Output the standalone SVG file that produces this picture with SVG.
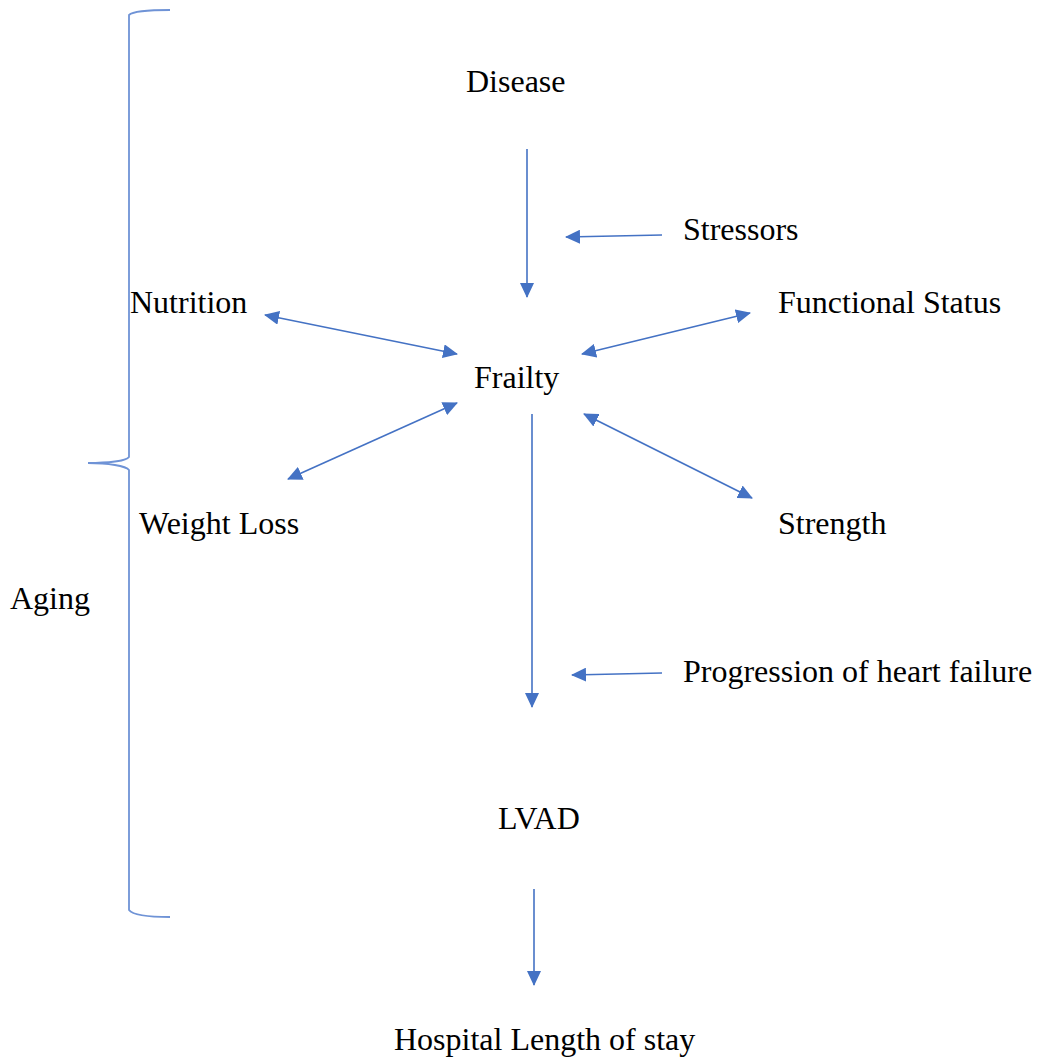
<svg xmlns="http://www.w3.org/2000/svg" width="1037" height="1062" viewBox="0 0 1037 1062">
<style>
.t{font-family:"Liberation Serif","Times New Roman",serif;font-size:32px;fill:#000}
.c{stroke:#4472C4;stroke-width:1.6;fill:none}
.b{stroke:#6f93d6;stroke-width:1.8;fill:none}
</style>
<defs>
<marker id="ah" viewBox="0 0 15 14" refX="14" refY="7" markerWidth="15" markerHeight="14" markerUnits="userSpaceOnUse" orient="auto-start-reverse">
<path d="M0,0 L15,7 L0,14 Z" fill="#4472C4"/>
</marker>
</defs>
<rect width="1037" height="1062" fill="#fff"/>
<g id="brace">
<path class="b" d="M170,10 C145,10 132,12 129,15 L129,457 C126,461 108,463 88,463 C108,463 126,466 129,470 L129,910 C132,914 145,917 170,917"/>
</g>
<g id="connectors">
<line class="c" x1="527" y1="149" x2="527" y2="297" marker-end="url(#ah)"/>
<line class="c" x1="662" y1="235" x2="566" y2="237" marker-end="url(#ah)"/>
<line class="c" x1="265" y1="315" x2="457" y2="354" marker-start="url(#ah)" marker-end="url(#ah)"/>
<line class="c" x1="582" y1="354" x2="750" y2="313" marker-start="url(#ah)" marker-end="url(#ah)"/>
<line class="c" x1="457" y1="403" x2="288" y2="479" marker-start="url(#ah)" marker-end="url(#ah)"/>
<line class="c" x1="584" y1="414" x2="752" y2="498" marker-start="url(#ah)" marker-end="url(#ah)"/>
<line class="c" x1="532" y1="414" x2="532" y2="707" marker-end="url(#ah)"/>
<line class="c" x1="662" y1="673" x2="572" y2="675" marker-end="url(#ah)"/>
<line class="c" x1="534" y1="889" x2="534" y2="985" marker-end="url(#ah)"/>
</g>
<g id="disease"><text class="t" x="466" y="92">Disease</text></g>
<g id="stressors"><text class="t" x="683" y="240">Stressors</text></g>
<g id="nutrition"><text class="t" x="130" y="313">Nutrition</text></g>
<g id="functional"><text class="t" x="778" y="313">Functional Status</text></g>
<g id="frailty"><text class="t" x="474" y="388">Frailty</text></g>
<g id="weightloss"><text class="t" x="139" y="534">Weight Loss</text></g>
<g id="strength"><text class="t" x="778" y="534">Strength</text></g>
<g id="aging"><text class="t" x="10" y="609">Aging</text></g>
<g id="progression"><text class="t" x="683" y="682">Progression of heart failure</text></g>
<g id="lvad"><text class="t" x="498" y="829">LVAD</text></g>
<g id="hospital"><text class="t" x="394" y="1050">Hospital Length of stay</text></g>
</svg>
